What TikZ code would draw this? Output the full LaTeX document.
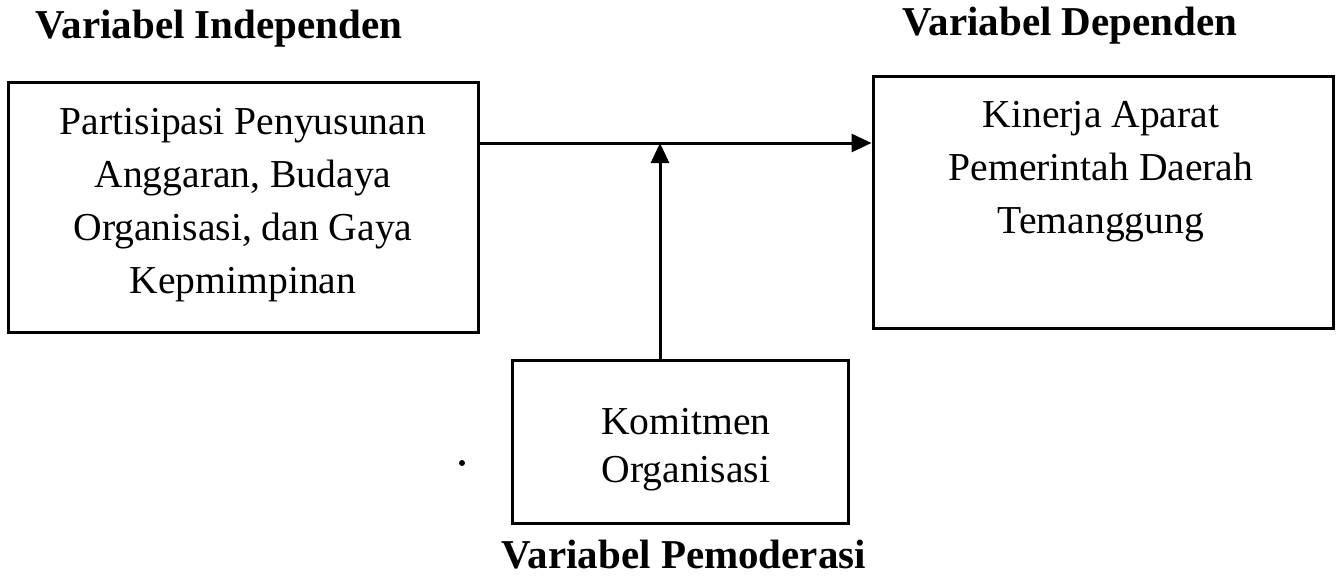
\documentclass[tikz,border=0pt]{standalone}
\usepackage{fontspec}
\setmainfont{Liberation Serif}
\usetikzlibrary{arrows.meta}
\begin{document}
\begin{tikzpicture}[x=0.5pt,y=-0.5pt,
  box/.style={draw=black,line width=1.5pt,rectangle,inner sep=0pt},
  txt/.style={align=center,font=\fontsize{19.8}{26.5}\selectfont,inner sep=0pt},
  head/.style={font=\fontsize{20.5}{24}\selectfont\bfseries,inner sep=0pt,anchor=base},
  arr/.style={line width=1.5pt,-{Triangle[length=10pt,width=9pt]}}]
\useasboundingbox (0,0) rectangle (1338,578);
% boxes
\node[box,minimum width=235pt,minimum height=125pt] (ind) at (243,207) {};
\node[box,minimum width=230pt,minimum height=126pt] (dep) at (1103,202) {};
\node[box,minimum width=168pt,minimum height=81.5pt] (mod) at (680,441.5) {};
% texts
\node[txt] (indt) at (243,205) {Partisipasi Penyusunan\\Anggaran, Budaya\\Organisasi, dan Gaya\\Kepmimpinan};
\node[txt] (dept) at (1101,172) {Kinerja Aparat\\Pemerintah Daerah\\Temanggung};
\node[txt,font=\fontsize{19.8}{24}\selectfont] (modt) at (686,450) {Komitmen\\Organisasi};
% headings
\node[head] (h1) at (219,38) {Variabel Independen};
\node[head] (h2) at (1070,35) {Variabel Dependen};
\node[head] (h3) at (684,568) {Variabel Pemoderasi};
% connectors
\coordinate (lvl) at (0,143);
\coordinate (mtop) at ([xshift=-10pt]mod.north);
\coordinate (junc) at (mtop |- lvl);
\draw[arr] (ind.east |- lvl) -- (dep.west |- lvl);
\draw[arr] (mtop) -- (junc);
% stray dot
\fill (462,463) circle (1.5pt);
\end{tikzpicture}
\end{document}
